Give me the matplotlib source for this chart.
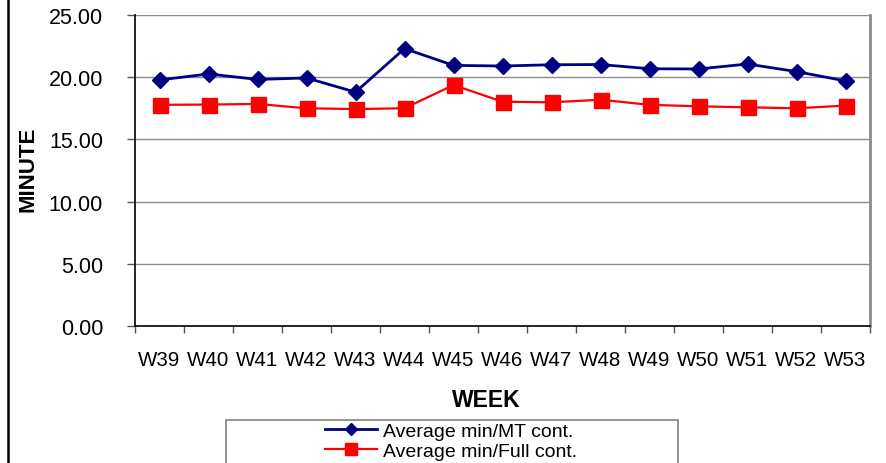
import matplotlib
matplotlib.use("Agg")
import matplotlib.pyplot as plt
from matplotlib.patches import Rectangle
from matplotlib.lines import Line2D

plt.rcParams['font.family'] = ['Liberation Sans', 'DejaVu Sans']

weeks = ["W39", "W40", "W41", "W42", "W43", "W44", "W45", "W46", "W47", "W48",
         "W49", "W50", "W51", "W52", "W53"]
avg_mt = [19.78, 20.26, 19.82, 19.94, 18.80, 22.30, 20.95, 20.90, 21.00, 21.02,
          20.68, 20.66, 21.06, 20.45, 19.70]
avg_full = [17.78, 17.80, 17.85, 17.50, 17.44, 17.50, 19.37, 18.03, 17.98, 18.19,
            17.78, 17.66, 17.58, 17.50, 17.72]
yticks = [0, 5, 10, 15, 20, 25]
series_names = ["Average min/MT cont.", "Average min/Full cont."]

W, H = 886, 464
fig = plt.figure(figsize=(W / 100, H / 100), dpi=100)
ax = fig.add_axes([135 / W, 1 - 327 / H, (870 - 135) / W, (327 - 16) / H])

x = list(range(len(weeks)))
ax.plot(x, avg_mt, color='#000080', lw=2.0, marker='D', ms=7.8,
        markeredgecolor='#000080', label=series_names[0], zorder=3)
ax.plot(x, avg_full, color='#ff0000', lw=1.6, marker='s', ms=10.8,
        markeredgecolor='#ff0000', label=series_names[1], zorder=3)

ax.set_xlim(-0.5, len(weeks) - 0.5)
ax.set_ylim(0, 25)
ax.set_yticks(yticks)
ax.set_yticklabels([f"{v:.2f}" for v in yticks], fontsize=15.5)
ax.yaxis.grid(True, color='#8c8c8c', lw=1.0)
ax.set_axisbelow(True)

ax.set_xticks(x)
ax.set_xticklabels(weeks, fontsize=14.8)
ax.set_xticks([i - 0.5 for i in range(len(weeks) + 1)], minor=True)
ax.tick_params(axis='x', which='major', length=0, pad=17)
ax.tick_params(axis='x', which='minor', length=5, color='#555555', width=1)
ax.tick_params(axis='y', length=6, color='#555555', width=1, pad=17)

ax.spines['top'].set_visible(False)
ax.spines['right'].set_color('#8c8c8c')
ax.spines['right'].set_linewidth(2)
ax.spines['left'].set_color('black')
ax.spines['left'].set_linewidth(1.2)
ax.spines['bottom'].set_color('black')
ax.spines['bottom'].set_linewidth(1.2)

fig.text(28 / W, 1 - 169 / H, "MINUTE", rotation=90, fontsize=16, fontweight='bold',
         ha='center', va='center')
fig.text(486 / W, 1 - 401 / H, "WEEK", fontsize=16.5, fontweight='bold',
         ha='center', va='center')

# left border line of the figure
fig.add_artist(Line2D([8 / W, 8 / W], [0, 1], color='black', lw=1.8,
                      transform=fig.transFigure))

# legend box
fig.add_artist(Rectangle((226 / W, -0.01), (678 - 226) / W, (464 - 421) / H + 0.01,
                         transform=fig.transFigure, fill=False, edgecolor='#808080',
                         lw=1.2))
handles, labels = ax.get_legend_handles_labels()
fig.legend(handles, labels, loc='center', bbox_to_anchor=(451 / W, 1 - 442 / H),
           frameon=False, fontsize=14, labelspacing=0.12, handlelength=2.7,
           handletextpad=0.3, borderpad=0, markerscale=0.8)

fig.savefig("out.png", dpi=100)
